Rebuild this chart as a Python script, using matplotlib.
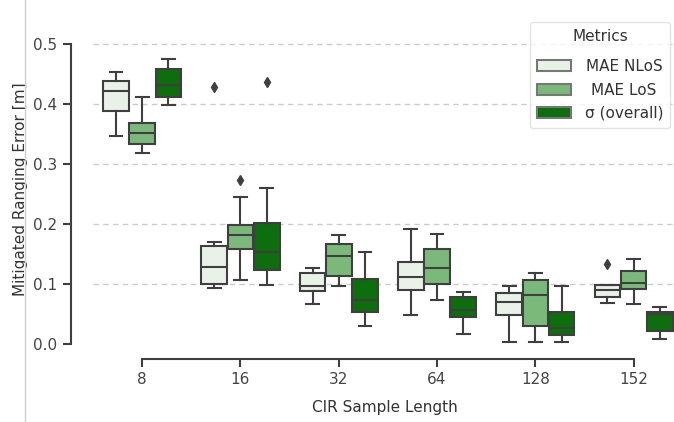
import matplotlib
matplotlib.use("Agg")
import matplotlib.pyplot as plt
from matplotlib.lines import Line2D
from matplotlib.patches import Patch

# ---- data (box statistics) ----
categories = ["8", "16", "32", "64", "128", "152"]
metrics = ["MAE NLoS", "MAE LoS", "\u03c3 (overall)"]

# each list: one value per category
nlos_whislo = [0.346, 0.093, 0.066, 0.048, 0.003, 0.069]
nlos_q1     = [0.389, 0.100, 0.088, 0.090, 0.048, 0.078]
nlos_med    = [0.421, 0.128, 0.097, 0.111, 0.070, 0.090]
nlos_q3     = [0.438, 0.164, 0.118, 0.136, 0.085, 0.098]
nlos_whishi = [0.453, 0.170, 0.126, 0.192, 0.096, 0.099]
nlos_fliers = [[], [0.429], [], [], [], [0.134]]

los_whislo = [0.318, 0.106, 0.096, 0.073, 0.003, 0.066]
los_q1     = [0.333, 0.159, 0.113, 0.100, 0.030, 0.091]
los_med    = [0.352, 0.181, 0.146, 0.126, 0.081, 0.101]
los_q3     = [0.369, 0.198, 0.166, 0.159, 0.106, 0.121]
los_whishi = [0.412, 0.245, 0.181, 0.184, 0.118, 0.141]
los_fliers = [[], [0.273], [], [], [], []]

sig_whislo = [0.399, 0.098, 0.030, 0.017, 0.003, 0.009]
sig_q1     = [0.412, 0.124, 0.054, 0.045, 0.015, 0.022]
sig_med    = [0.431, 0.154, 0.073, 0.056, 0.026, 0.050]
sig_q3     = [0.459, 0.202, 0.109, 0.078, 0.053, 0.053]
sig_whishi = [0.475, 0.260, 0.154, 0.086, 0.096, 0.062]
sig_fliers = [[], [0.436], [], [], [], []]

yticks = [0.0, 0.1, 0.2, 0.3, 0.4, 0.5]

series = [
    (nlos_whislo, nlos_q1, nlos_med, nlos_q3, nlos_whishi, nlos_fliers),
    (los_whislo, los_q1, los_med, los_q3, los_whishi, los_fliers),
    (sig_whislo, sig_q1, sig_med, sig_q3, sig_whishi, sig_fliers),
]

# ---- colours ----
pal = ["#e8f2e7", "#7bb97a", "#0c6e0c"]
line_col = "#3f3f3f"

W, H = 674, 422
fig = plt.figure(figsize=(W / 100, H / 100), dpi=100)
fig.patch.set_facecolor("white")

ax_left, ax_right = 93, 674
ax_top, ax_bot = 20, 359
ax = fig.add_axes([ax_left / W, (H - ax_bot) / H, (ax_right - ax_left) / W, (ax_bot - ax_top) / H])

ncat = len(categories)
box_w = 0.8 / 3
offsets = [-box_w, 0.0, box_w]

for k, (wl, q1, md, q3, wh, fl) in enumerate(series):
    stats = []
    for i in range(ncat):
        stats.append(dict(whislo=wl[i], q1=q1[i], med=md[i], q3=q3[i], whishi=wh[i], fliers=fl[i]))
    positions = [i + offsets[k] for i in range(ncat)]
    ax.bxp(stats, positions=positions, widths=box_w * 0.98, patch_artist=True,
           showfliers=True, manage_ticks=False,
           boxprops=dict(facecolor=pal[k], edgecolor=line_col, linewidth=1.5),
           medianprops=dict(color=line_col, linewidth=1.5),
           whiskerprops=dict(color=line_col, linewidth=1.5),
           capprops=dict(color=line_col, linewidth=1.5),
           flierprops=dict(marker="d", markerfacecolor=line_col, markeredgecolor=line_col,
                           markersize=5.5, linestyle="none"))

# axes limits so that 0.0 -> px 344 and 0.5 -> px 44
px_per_unit = 300 / 0.5
ax.set_ylim((344 - ax_bot) / px_per_unit, (344 - ax_top) / px_per_unit)
cat_px = 98.3
ax.set_xlim(-0.5 + (ax_left - 93) / cat_px, -0.5 + (ax_right - 93) / cat_px)

ax.set_yticks(yticks)
ax.set_yticklabels([f"{v:.1f}" for v in yticks])
ax.set_xticks(range(ncat))
ax.set_xticklabels(categories)

for t in yticks[1:]:
    ax.axhline(t, color="#cccccc", linestyle=(0, (4, 3)), linewidth=1.0, zorder=0)

for s in ["top", "right"]:
    ax.spines[s].set_visible(False)
ax.spines["left"].set_position(("outward", 16))
ax.spines["left"].set_bounds(0, 0.5)
ax.spines["bottom"].set_bounds(0, ncat - 1)
for s in ["left", "bottom"]:
    ax.spines[s].set_color(line_col)
    ax.spines[s].set_linewidth(1.5)

ax.tick_params(axis="both", colors=line_col, labelcolor="#444444", labelsize=11,
               width=1.5, length=6)
ax.set_facecolor("none")

ax.set_ylabel("Mitigated Ranging Error [m]", fontsize=11, color="#333333")
ax.set_xlabel("CIR Sample Length", fontsize=11, color="#333333")
ax.yaxis.set_label_coords((28 - ax_left) / (ax_right - ax_left), 0.5)
ax.xaxis.set_label_coords((385 - ax_left) / (ax_right - ax_left), -(400 - ax_bot) / (ax_bot - ax_top))

handles = [Patch(facecolor=pal[k], edgecolor="#777777", linewidth=1.5, label=metrics[k]) for k in range(3)]
leg = ax.legend(handles=handles, title="Metrics", loc="upper right",
                bbox_to_anchor=(670 / W, (H - 22) / H), bbox_transform=fig.transFigure,
                fontsize=11, title_fontsize=11, frameon=True, fancybox=True,
                handlelength=2.2, handleheight=0.7, borderpad=0.45, labelspacing=0.55,
                handletextpad=0.9, borderaxespad=0.0)
leg._legend_box.sep = 11
leg.get_frame().set_edgecolor("#dddddd")
leg.get_title().set_color("#333333")

# centre the legend labels on each other (as in the reference)
renderer = fig.canvas.get_renderer()
texts = leg.get_texts()
widths = [t.get_window_extent(renderer).width for t in texts]
wmax = max(widths)
for t, w in zip(texts, widths):
    t.set_color("#333333")
    t.set_x((wmax - w) / 2)

fig.add_artist(Line2D([24.5 / W, 24.5 / W], [0, 1], color="#cfcfcf", linewidth=1.0))

fig.savefig("out.png", dpi=100)
